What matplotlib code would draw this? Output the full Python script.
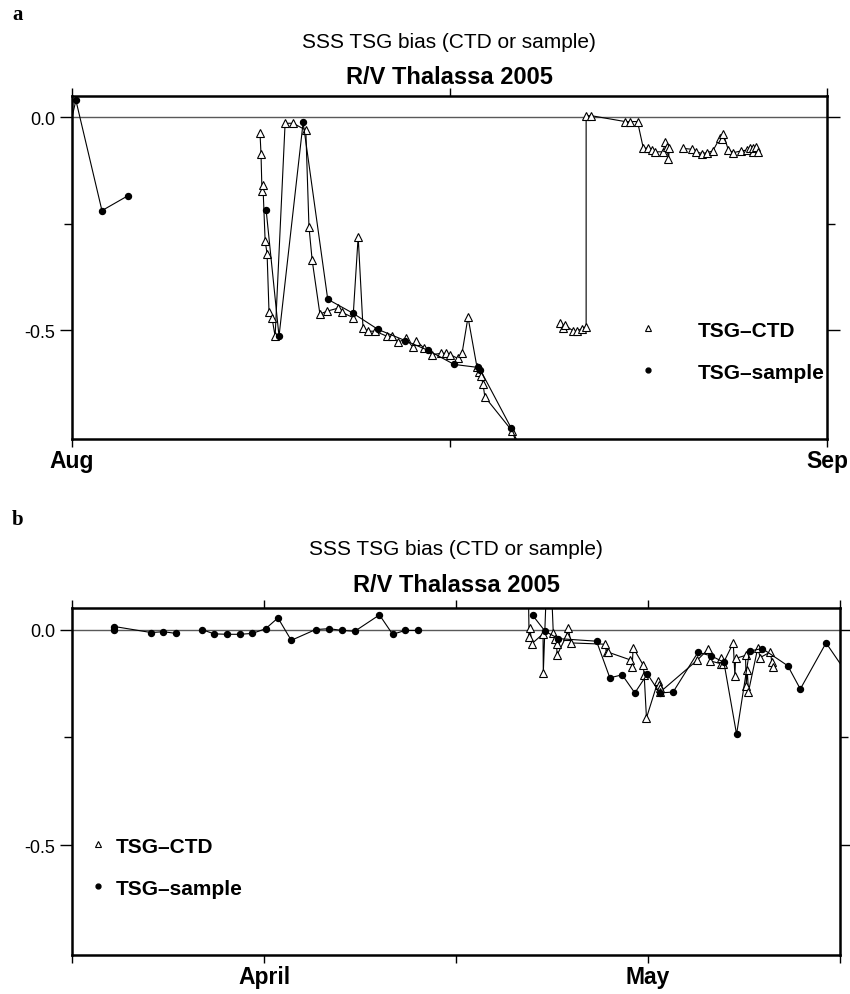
import numpy as np
import matplotlib
matplotlib.use('Agg')
import matplotlib.pyplot as plt
from matplotlib.lines import Line2D

plt.rcParams['font.family'] = ['Liberation Sans', 'DejaVu Sans']

nan = np.nan

# panel a : days since 1 Aug 2005, nan = gap in the line
a_ctd_day = np.array([7.72, 7.76, 7.80, 7.84, 7.93, 8.01, 8.09, 8.21, 8.34, 8.75, 9.08, 9.60, 9.73, 9.86,
                      10.18, 10.47, 10.92, 11.09, 11.54, 11.75, 11.95, 12.16, 12.44, 12.94, 13.14, 13.39,
                      13.72, 14.00, 14.13, 14.46, 14.78, 15.15, 15.36, 15.52, 15.85, 16.02, 16.26, 16.63,
                      16.71, 16.80, 16.88, 16.95, 18.07, 18.60, nan,
                      20.04, 20.18, 20.25, 20.59, 20.73, 20.93, 21.11, 21.11, 21.30, 22.71, 22.92, 23.22,
                      23.46, 23.63, 23.81, 23.94, 24.28, 24.35, 24.42, 24.49, 24.53, nan,
                      25.10, 25.45, 25.63, 25.86, 26.07, 26.31, 26.61, 26.68, 26.75, 26.95, 27.16, 27.46,
                      27.71, 27.84, 27.95, 27.98, 28.09, 28.15])
a_ctd_bias = np.array([-0.038, -0.085, -0.172, -0.160, -0.290, -0.320, -0.458, -0.470, -0.514, -0.014,
                       -0.014, -0.030, -0.257, -0.335, -0.462, -0.455, -0.448, -0.458, -0.470, -0.280,
                       -0.495, -0.502, -0.502, -0.514, -0.514, -0.528, -0.519, -0.540, -0.524, -0.542,
                       -0.557, -0.554, -0.554, -0.557, -0.566, -0.552, -0.469, -0.587, -0.597, -0.608,
                       -0.627, -0.656, -0.736, -0.820, nan,
                       -0.483, -0.494, -0.488, -0.502, -0.502, -0.496, -0.491, 0.004, 0.004, -0.010,
                       -0.010, -0.010, -0.073, -0.072, -0.077, -0.081, -0.081, -0.057, -0.069, -0.097,
                       -0.073, nan,
                       -0.073, -0.075, -0.081, -0.085, -0.083, -0.079, -0.048, -0.050, -0.040, -0.077,
                       -0.083, -0.079, -0.077, -0.073, -0.081, -0.072, -0.069, -0.081])
a_smp_day = np.array([-0.40, 0.16, 1.23, 2.30, nan, 7.97, 8.50, 9.49, 10.50, 11.54, 12.57, 13.68,
                      14.62, 15.69, 16.67, 16.76, 18.03, 18.60])
a_smp_bias = np.array([-0.10, 0.040, -0.219, -0.184, nan, -0.217, -0.514, -0.012, -0.427, -0.460,
                       -0.498, -0.524, -0.547, -0.580, -0.587, -0.592, -0.729, -0.800])

# panel b : days since 1 April 2005
b_ctd_day = np.array([20.60, 20.71, 20.78, 20.92, 21.80, 21.82, 22.25, 22.60, 22.70, 22.86, 22.90,
                      23.64, 23.77, 23.98, 26.63, 26.76, 26.84, 28.58, 28.76, 28.84, 29.62, 29.70,
                      29.88, 30.79, 30.84, 30.92, 30.95, 33.85, 34.68, 34.87, 35.67, 35.72, 35.85,
                      36.66, 36.79, 36.84, 37.62, 37.67, 37.75, 37.85, 38.58, 38.76, 39.57, 39.67, 39.75])
b_ctd_bias = np.array([0.200, -0.017, 0.004, -0.033, -0.010, -0.101, 0.250, -0.008, -0.023, -0.034,
                       -0.059, -0.014, 0.004, -0.031, -0.034, -0.053, -0.052, -0.070, -0.088, -0.042,
                       -0.082, -0.105, -0.205, -0.119, -0.128, -0.136, -0.145, -0.071, -0.046, -0.073,
                       -0.079, -0.067, -0.080, -0.031, -0.108, -0.067, -0.060, -0.130, -0.093, -0.144,
                       -0.042, -0.065, -0.052, -0.076, -0.088])
b_smp_day = np.array([-11.70, -11.68, -8.81, -7.87, -6.86, nan,
                      -4.86, -3.90, -2.86, -1.89, -0.91, 0.13, 1.09, 2.13, 4.03, 5.07, 6.10, 7.09,
                      9.02, 10.05, 11.04, 12.03, nan,
                      20.99, 21.96, 23.00, 25.98, 27.02, 27.98, 28.97, 29.95, 30.92, 31.96, 33.90,
                      34.94, 35.93, 36.92, 37.93, 38.92, 40.92, 41.90, 43.91, 45.50])
b_smp_bias = np.array([-0.002, 0.007, -0.007, -0.005, -0.009, nan,
                       0.000, -0.010, -0.011, -0.011, -0.009, 0.002, 0.027, -0.025, 0.000, 0.002,
                       -0.002, -0.004, 0.034, -0.011, -0.002, -0.002, nan,
                       0.033, -0.004, -0.021, -0.027, -0.112, -0.105, -0.147, -0.103, -0.147, -0.145,
                       -0.053, -0.061, -0.076, -0.243, -0.050, -0.044, -0.084, -0.138, -0.031, -0.100])

a_month_ticks = [0, 31]
a_month_labels = ['Aug', 'Sep']
b_month_ticks = [0, 30]
b_month_labels = ['April', 'May']

title = 'SSS TSG bias (CTD or sample)'
subtitle = 'R/V Thalassa 2005'

W, H = 850, 995
fig = plt.figure(figsize=(W / 100, H / 100), dpi=100)


def frac(x0, y_top, x1, y_bot):
    return [x0 / W, 1 - y_bot / H, (x1 - x0) / W, (y_bot - y_top) / H]


def draw_panel(ax, ctd_day, ctd_bias, smp_day, smp_bias, xlim, majors, labels, minors):
    ax.axhline(0, color='0.35', lw=1.0, zorder=1)
    ax.plot(ctd_day, ctd_bias, color='k', lw=0.8, marker='^', ms=6.3,
            mfc='white', mec='k', mew=0.8, zorder=3)
    ax.plot(smp_day, smp_bias, color='k', lw=0.8, marker='o', ms=4.3, zorder=4)
    ax.set_xlim(*xlim)
    ax.set_ylim(-0.755, 0.05)

    ax.set_xticks(majors)
    ax.set_xticklabels(labels, fontsize=16.5, fontweight='bold')
    ax.set_xticks(minors, minor=True)
    ax.tick_params(axis='x', which='both', direction='out', length=6, width=1,
                   top=True, bottom=True, pad=1.5)

    ax.set_yticks([0, -0.5])
    ax.set_yticklabels(['0.0', '-0.5'], fontsize=13)
    ax.set_yticks([-0.25], minor=True)
    ax.tick_params(axis='y', which='major', direction='out', length=9, width=1,
                   left=True, right=True, pad=3)
    ax.tick_params(axis='y', which='minor', direction='out', length=6, width=1,
                   left=True, right=True)
    for s in ax.spines.values():
        s.set_linewidth(1.8)


def add_key(ax, anchor, textpad):
    handles = [Line2D([], [], ls='none', marker='^', ms=5, mfc='white', mec='k', mew=0.8),
               Line2D([], [], ls='none', marker='o', ms=3.5, color='k')]
    leg = ax.legend(handles, ['TSG–CTD', 'TSG–sample'], loc='upper left', bbox_to_anchor=anchor,
                    frameon=False, borderpad=0, borderaxespad=0, handlelength=1.0,
                    handletextpad=textpad, labelspacing=1.1,
                    prop={'size': 15, 'weight': 'bold'})
    return leg


ax_a = fig.add_axes(frac(72, 97, 827, 440))
draw_panel(ax_a, a_ctd_day, a_ctd_bias, a_smp_day, a_smp_bias, (0, 31),
           a_month_ticks, a_month_labels, [15.5])
add_key(ax_a, (0.749, 0.345), 1.9)

ax_b = fig.add_axes(frac(72, 609, 840, 956))
draw_panel(ax_b, b_ctd_day, b_ctd_bias, b_smp_day, b_smp_bias, (-15, 45),
           b_month_ticks, b_month_labels, [-15, 15, 45])
add_key(ax_b, (0.020, 0.341), 0.35)

# panel letters and titles
fig.text(12 / W, 1 - 15 / H, 'a', family='Liberation Serif', fontweight='bold', fontsize=15, va='center')
fig.text(12 / W, 1 - 520 / H, 'b', family='Liberation Serif', fontweight='bold', fontsize=15, va='center')
for cx, ty, sy in [(449, 42, 77), (456, 550, 585)]:
    fig.text(cx / W, 1 - ty / H, title, fontsize=15, ha='center', va='center')
    fig.text(cx / W, 1 - sy / H, subtitle, fontsize=17, fontweight='bold', ha='center', va='center')

plt.savefig('out.png', dpi=100)
plt.close()
